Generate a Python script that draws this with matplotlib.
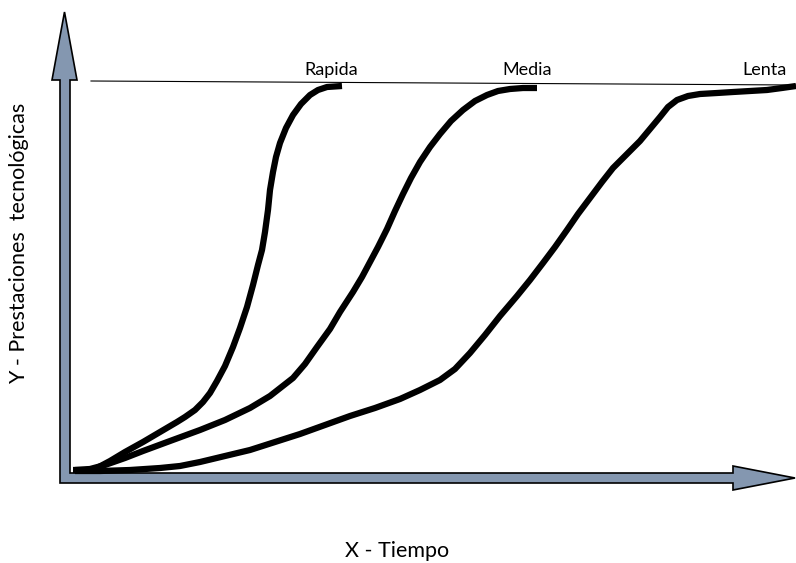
import matplotlib
matplotlib.use('Agg')
import matplotlib.pyplot as plt
from matplotlib.patches import Polygon

# Curvas de adopcion tecnologica (tiempo, prestaciones)
rapida_t = [-2, 10, 20, 35, 50, 68, 85, 102, 110, 120, 128, 135, 142, 150, 158, 165, 172,
            178, 183, 187, 190, 193, 195, 198, 201, 205, 211, 218, 226, 235, 243, 252, 267]
rapida_p = [1, 1, 2, 10, 19, 29, 39, 49, 54, 61, 69, 78, 90, 105, 124, 143, 164,
            186, 206, 221, 239, 261, 281, 299, 314, 328, 343, 356, 367, 376, 381, 384, 385]

media_t = [0, 15, 30, 50, 68, 95, 125, 150, 175, 195, 218, 230, 242, 255, 265, 278, 287,
           295, 303, 312, 320, 328, 336, 345, 355, 365, 376, 388, 400, 412, 423, 435, 448, 462]
media_p = [1, 2, 6, 13, 20, 30, 41, 51, 63, 75, 93, 107, 124, 142, 159, 179, 194,
           209, 224, 242, 260, 277, 293, 309, 324, 337, 350, 361, 370, 376, 380, 382, 383, 383]

lenta_t = [0, 25, 55, 85, 105, 125, 150, 175, 200, 225, 250, 275, 300, 325, 345, 365,
           380, 395, 410, 425, 442, 455, 468, 480, 492, 503, 515, 527, 538, 552, 565, 575,
           585, 593, 602, 613, 625, 642, 658, 675, 692, 707, 721]
lenta_p = [0, 0, 1, 3, 5, 9, 15, 21, 29, 37, 46, 55, 63, 72, 81, 91,
           102, 118, 136, 155, 175, 191, 208, 224, 241, 257, 273, 289, 303, 317, 330, 342,
           354, 364, 371, 375, 377, 378, 379, 380, 381, 383, 385]

techo_t = [16, 721]
techo_p = [390, 386]

etiquetas = ['Rapida', 'Media', 'Lenta']
etiq_t = [256, 452, 689]

plt.rcParams['font.family'] = ['Lato', 'DejaVu Sans']

fig = plt.figure(figsize=(7.96, 5.63), dpi=100)
W, H = 796, 563
ax = fig.add_axes([60 / W, (H - 483) / H, (796 - 60) / W, (483 - 12) / H])
ax.set_xlim(-15, 721)
ax.set_ylim(-12, 459)
ax.axis('off')

# ejes en forma de flecha (L)
flecha = [(-10.5, 459), (2, 391), (-5, 391), (-5, -2), (658, -2), (658, 5),
          (720, -7), (658, -19), (658, -12), (-15, -12), (-15, 391), (-23, 391)]
ax.add_patch(Polygon(flecha, closed=True, facecolor='#8497B0', edgecolor='black',
                     linewidth=1.2, joinstyle='miter', zorder=1, clip_on=False))

ax.plot(techo_t, techo_p, color='black', linewidth=0.8, zorder=2)

for t, p in [(rapida_t, rapida_p), (media_t, media_p), (lenta_t, lenta_p)]:
    ax.plot(t, p, color='black', linewidth=4.5, solid_capstyle='butt',
            solid_joinstyle='round', zorder=3, clip_on=False)

for nombre, t in zip(etiquetas, etiq_t):
    ax.text(t, 401, nombre, ha='center', va='center', fontsize=13)

fig.text(19 / W, 1 - 243 / H, 'Y - Prestaciones  tecnológicas', rotation=90,
         ha='center', va='center', fontsize=15.5)
fig.text(397 / W, 1 - 551 / H, 'X - Tiempo', ha='center', va='center', fontsize=15.5)

fig.savefig('out.png', dpi=100)
